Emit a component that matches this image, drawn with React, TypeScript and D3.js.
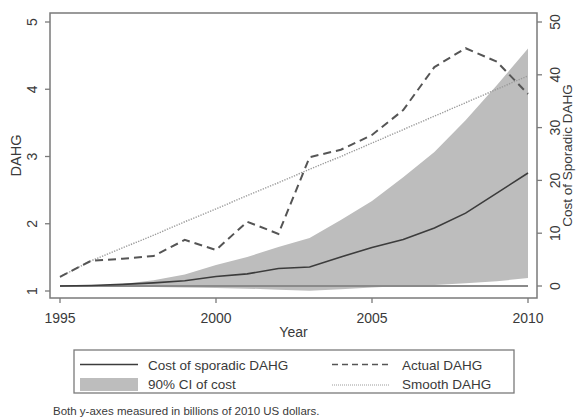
import React from "react";
import * as d3 from "d3";

const years = [1995, 1996, 1997, 1998, 1999, 2000, 2001, 2002, 2003, 2004, 2005, 2006, 2007, 2008, 2009, 2010];
const actualDAHG = [1.21, 1.45, 1.48, 1.52, 1.76, 1.61, 2.03, 1.85, 2.99, 3.1, 3.32, 3.69, 4.33, 4.61, 4.41, 3.93];
const smoothDAHG = [1.21, 1.45, 1.64, 1.83, 2.03, 2.22, 2.42, 2.61, 2.81, 3.0, 3.2, 3.4, 3.6, 3.8, 4.0, 4.2];
const costSporadic = [0, 0.1, 0.3, 0.6, 1.0, 1.8, 2.3, 3.3, 3.6, 5.5, 7.3, 8.8, 11.0, 13.8, 17.6, 21.4];
const ciUpper = [0, 0.1, 0.4, 1.1, 2.2, 4.0, 5.5, 7.4, 9.1, 12.5, 16.1, 20.6, 25.4, 31.4, 38.0, 45.0];
const ciLower = [0, 0, -0.1, -0.2, -0.3, -0.4, -0.5, -0.7, -0.9, -0.6, -0.3, 0, 0.2, 0.5, 0.9, 1.5];
const xTicks = [1995, 2000, 2005, 2010];
const leftTicks = [1, 2, 3, 4, 5];
const rightTicks = [0, 10, 20, 30, 40, 50];

const FONT = "Liberation Sans, Arial, sans-serif";
const FRAME = "#7a7a7a";
const TEXT = "#3a3a3a";

export default function App() {
  const x = d3.scaleLinear().domain([1995, 2010]).range([60, 528]);
  const yL = d3.scaleLinear().domain([1, 5]).range([291, 22]);
  const yR = d3.scaleLinear().domain([0, 50]).range([286, 22]);

  const band = d3
    .area<number>()
    .x((_, i) => x(years[i]))
    .y0((_, i) => yR(ciLower[i]))
    .y1((_, i) => yR(ciUpper[i]));
  const costLine = d3
    .line<number>()
    .x((_, i) => x(years[i]))
    .y((d) => yR(d));
  const dLine = d3
    .line<number>()
    .x((_, i) => x(years[i]))
    .y((d) => yL(d));

  const plot = { l: 50, t: 13, r: 537, b: 298 };

  return (
    <svg
      width={576}
      height={418}
      style={{ position: "absolute", left: 0, top: 0, background: "#fff" }}
      fontFamily={FONT}
    >
      <rect x={0} y={0} width={576} height={418} fill="#fff" />
      {/* band */}
      <path d={band(years.map(() => 0)) || ""} fill="#bdbdbd" />
      {/* zero line */}
      <line x1={x(1995)} x2={x(2010)} y1={yR(0)} y2={yR(0)} stroke="#8a8a8a" strokeWidth={2} />
      {/* cost line */}
      <path d={costLine(costSporadic) || ""} fill="none" stroke="#3c3c3c" strokeWidth={1.6} />
      {/* smooth */}
      <path d={dLine(smoothDAHG) || ""} fill="none" stroke="#9a9a9a" strokeWidth={1.4} strokeDasharray="1.3,1.3" />
      {/* actual */}
      <path d={dLine(actualDAHG) || ""} fill="none" stroke="#555" strokeWidth={2} strokeDasharray="8,5" />

      {/* frame */}
      <rect x={plot.l} y={plot.t} width={plot.r - plot.l} height={plot.b - plot.t} fill="none" stroke={FRAME} strokeWidth={1.5} />

      {/* left axis */}
      {leftTicks.map((t) => (
        <g key={"l" + t}>
          <line x1={plot.l - 5} x2={plot.l} y1={yL(t)} y2={yL(t)} stroke={FRAME} strokeWidth={1.3} />
          <text
            transform={`translate(37,${yL(t)}) rotate(-90)`}
            textAnchor="middle"
            fontSize={14}
            fill={TEXT}
          >
            {t}
          </text>
        </g>
      ))}
      <text transform={`translate(21,155.5) rotate(-90)`} textAnchor="middle" fontSize={14.5} fill={TEXT}>
        DAHG
      </text>

      {/* right axis */}
      {rightTicks.map((t) => (
        <g key={"r" + t}>
          <line x1={plot.r} x2={plot.r + 5} y1={yR(t)} y2={yR(t)} stroke={FRAME} strokeWidth={1.3} />
          <text
            transform={`translate(560,${yR(t)}) rotate(-90)`}
            textAnchor="middle"
            fontSize={14}
            fill={TEXT}
          >
            {t}
          </text>
        </g>
      ))}
      <text transform={`translate(572,155.5) rotate(-90)`} textAnchor="middle" fontSize={13.5} fill={TEXT}>
        Cost of Sporadic DAHG
      </text>

      {/* x axis */}
      {xTicks.map((t) => (
        <g key={"x" + t}>
          <line x1={x(t)} x2={x(t)} y1={plot.b} y2={plot.b + 5} stroke={FRAME} strokeWidth={1.3} />
          <text x={x(t)} y={323} textAnchor="middle" fontSize={14} fill={TEXT}>
            {t}
          </text>
        </g>
      ))}
      <text x={(plot.l + plot.r) / 2} y={337} textAnchor="middle" fontSize={14} fill={TEXT}>
        Year
      </text>

      {/* legend */}
      <rect x={74} y={350} width={440} height={43} fill="#fff" stroke={FRAME} strokeWidth={1.3} />
      <line x1={80} x2={138} y1={364.5} y2={364.5} stroke="#3c3c3c" strokeWidth={1.6} />
      <rect x={80} y={378} width={58} height={13} fill="#bdbdbd" />
      <text x={148} y={369.5} fontSize={13.5} fill={TEXT}>Cost of sporadic DAHG</text>
      <text x={148} y={389} fontSize={13.5} fill={TEXT}>90% CI of cost</text>
      <line x1={332} x2={390} y1={364.5} y2={364.5} stroke="#555" strokeWidth={1.6} strokeDasharray="6,4" />
      <line x1={332} x2={390} y1={385} y2={385} stroke="#9a9a9a" strokeWidth={1} strokeDasharray="1,1" />
      <text x={402} y={369.5} fontSize={13.5} fill={TEXT}>Actual DAHG</text>
      <text x={402} y={389} fontSize={13.5} fill={TEXT}>Smooth DAHG</text>

      {/* note */}
      <text x={53} y={415} fontSize={11.5} fill={TEXT}>
        Both y-axes measured in billions of 2010 US dollars.
      </text>
    </svg>
  );
}
